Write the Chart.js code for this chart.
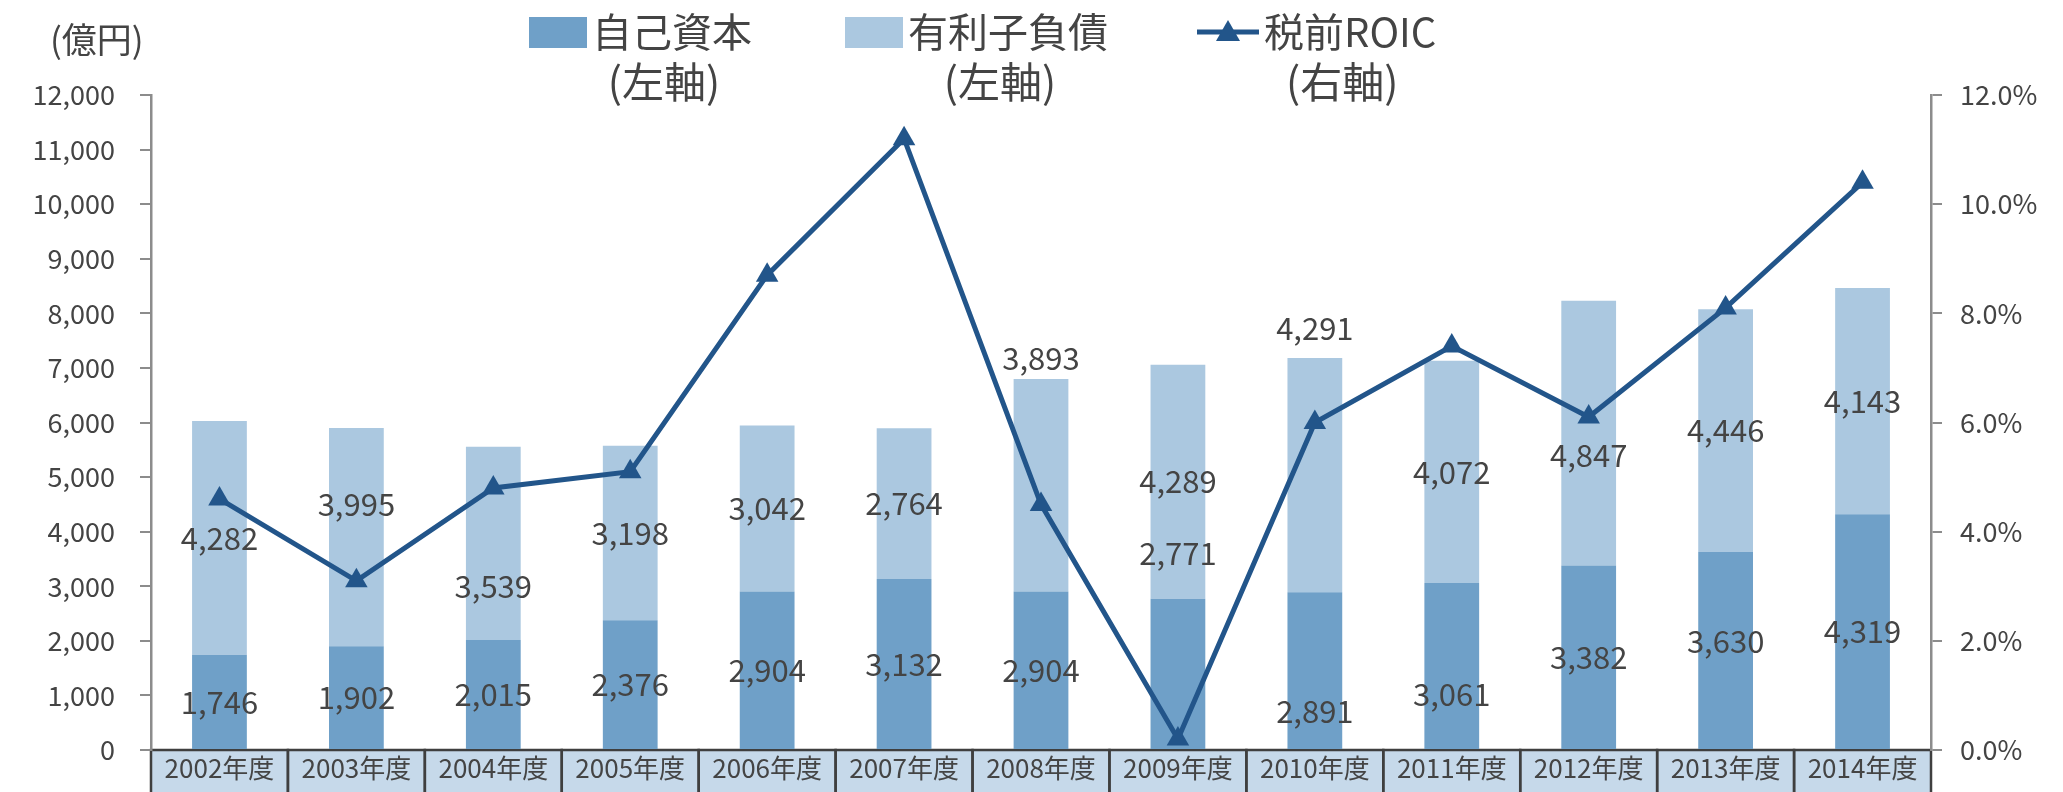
<!DOCTYPE html>
<html>
<head>
<meta charset="utf-8">
<script src="https://cdn.jsdelivr.net/npm/chart.js@4/dist/chart.umd.min.js"></script>
<style>
  body { margin: 0; background: #fff; }
  #wrap { width: 2063px; height: 792px; }
</style>
</head>
<body>
<div id="wrap"><canvas id="roicChart" width="2063" height="792"></canvas></div>
<script>
// ---- data ----
var years = ['2002年度', '2003年度', '2004年度', '2005年度', '2006年度', '2007年度', '2008年度',
    '2009年度', '2010年度', '2011年度', '2012年度', '2013年度', '2014年度'];
var equity = [1746, 1902, 2015, 2376, 2904, 3132, 2904, 2771, 2891, 3061, 3382, 3630, 4319];
var debt = [4282, 3995, 3539, 3198, 3042, 2764, 3893, 4289, 4291, 4072, 4847, 4446, 4143];
var roic = [4.6, 3.1, 4.8, 5.1, 8.7, 11.2, 4.5, 0.2, 6.0, 7.4, 6.1, 8.1, 10.4];
var legendSub = ['(左軸)', '(左軸)', '(右軸)'];

// label nudges (px) where the labels were moved by hand in the original
var equityNudge = [0, 0, 0, 0, 0, 0, 0, -121, 41, 28, 0, -9, 0];
var debtNudge = [0, -33, 43, 0, 0, 0, -127, 0, -147, 0, 22, 0, 0];

var FONT = "'Noto Sans CJK JP', 'Noto Sans', sans-serif";
var TEXT = '#444';

//================ plugins =================

// category band under the x axis
var xBand = {
    id: 'xBand',
    beforeDraw: function(chart) {
        var ctx = chart.ctx, area = chart.chartArea;
        var n = chart.data.labels.length;
        var w = (area.right - area.left) / n;
        ctx.save();
        ctx.fillStyle = '#c6d9ea';
        ctx.fillRect(area.left, area.bottom, area.right - area.left, chart.height - area.bottom);
        ctx.strokeStyle = '#3f3f3f';
        ctx.lineWidth = 2.5;
        for (var i = 0; i < n; i++) {
            ctx.strokeRect(area.left + i * w, area.bottom, w, chart.height - area.bottom + 5);
        }
        ctx.restore();
    }
};

// value labels on the bars
var barLabels = {
    id: 'barLabels',
    afterDatasetsDraw: function(chart) {
        var ctx = chart.ctx;
        ctx.save();
        ctx.font = '31px ' + FONT;
        ctx.fillStyle = TEXT;
        ctx.textAlign = 'center';
        ctx.textBaseline = 'middle';
        [[1, equity, equityNudge], [2, debt, debtNudge]].forEach(function(d) {
            var meta = chart.getDatasetMeta(d[0]);
            meta.data.forEach(function(bar, i) {
                var y = (bar.y + bar.base) / 2 + d[2][i];
                ctx.fillText(d[1][i].toLocaleString('en-US'), bar.x, y);
            });
        });
        ctx.restore();
    }
};

// two-line legend + unit label
var topLegend = {
    id: 'topLegend',
    afterDraw: function(chart) {
        var ctx = chart.ctx;
        var ds = chart.data.datasets;
        ctx.save();
        ctx.fillStyle = TEXT;
        ctx.font = '35px ' + FONT;
        ctx.textAlign = 'left';
        ctx.textBaseline = 'middle';
        ctx.fillText('(億円)', 50, 40);

        var items = [
            { ds: ds[1], box: 529, text: 592 },
            { ds: ds[2], box: 845, text: 908 },
            { ds: ds[0], box: 1197, text: 1264 }
        ];
        items.forEach(function(it, k) {
            if (it.ds.type === 'line') {
                ctx.strokeStyle = it.ds.borderColor;
                ctx.lineWidth = 5;
                ctx.beginPath();
                ctx.moveTo(it.box, 32);
                ctx.lineTo(it.box + 62, 32);
                ctx.stroke();
                ctx.fillStyle = it.ds.borderColor;
                ctx.beginPath();
                var cx = it.box + 31;
                ctx.moveTo(cx, 20);
                ctx.lineTo(cx + 12, 41);
                ctx.lineTo(cx - 12, 41);
                ctx.closePath();
                ctx.fill();
            } else {
                ctx.fillStyle = it.ds.backgroundColor;
                ctx.fillRect(it.box, 17, 58, 31);
            }
            ctx.fillStyle = TEXT;
            ctx.font = '40px ' + FONT;
            ctx.textAlign = 'left';
            ctx.fillText(it.ds.label, it.text, 32);
            var w = ctx.measureText(it.ds.label).width;
            ctx.textAlign = 'center';
            ctx.font = '42px ' + FONT;
            ctx.fillText(legendSub[k], it.text + w / 2 - 8, 82);
        });
        ctx.restore();
    }
};

//================ chart =================

var ctx1 = document.getElementById('roicChart').getContext('2d');
var config = {
    type: 'bar',
    data: {
        labels: years,
        datasets: [{
            type: 'line',
            label: '税前ROIC',
            data: roic,
            yAxisID: 'y1',
            borderColor: '#22558a',
            backgroundColor: '#22558a',
            borderWidth: 5,
            pointStyle: 'triangle',
            pointRadius: 13,
            pointBackgroundColor: '#22558a',
            pointBorderWidth: 0,
            tension: 0,
            order: 0
        }, {
            label: '自己資本',
            data: equity,
            yAxisID: 'y',
            backgroundColor: '#6fa0c8',
            barPercentage: 0.4,
            categoryPercentage: 1,
            order: 1
        }, {
            label: '有利子負債',
            data: debt,
            yAxisID: 'y',
            backgroundColor: '#abc8e0',
            barPercentage: 0.4,
            categoryPercentage: 1,
            order: 1
        }]
    },
    options: {
        responsive: false,
        animation: false,
        devicePixelRatio: 1,
        layout: { padding: { top: 95, left: 0, right: 0, bottom: 0 } },
        plugins: {
            legend: { display: false },
            tooltip: { enabled: false }
        },
        scales: {
            x: {
                stacked: true,
                grid: { display: false, drawTicks: false },
                border: { display: false },
                ticks: { color: TEXT, font: { family: FONT, size: 26 }, padding: 3 },
                afterFit: function(s) { s.height = 42; }
            },
            y: {
                stacked: true,
                position: 'left',
                min: 0,
                max: 12000,
                ticks: {
                    stepSize: 1000,
                    color: TEXT,
                    font: { family: FONT, size: 27 },
                    padding: 25,
                    callback: function(v) { return v.toLocaleString('en-US'); }
                },
                grid: { drawOnChartArea: false, drawTicks: true, tickLength: 11, color: '#8c8c8c', lineWidth: 2 },
                border: { display: true, color: '#8c8c8c', width: 2.5 },
                afterFit: function(s) { s.width = 151; }
            },
            y1: {
                position: 'right',
                min: 0,
                max: 12,
                ticks: {
                    stepSize: 2,
                    color: TEXT,
                    font: { family: FONT, size: 27 },
                    padding: 18,
                    callback: function(v) { return v.toFixed(1) + '%'; }
                },
                grid: { drawOnChartArea: false, drawTicks: true, tickLength: 11, color: '#8c8c8c', lineWidth: 2 },
                border: { display: true, color: '#8c8c8c', width: 2.5 },
                afterFit: function(s) { s.width = 132; }
            }
        }
    },
    plugins: [xBand, barLabels, topLegend]
};

var roicChart = new Chart(ctx1, config);
</script>
</body>
</html>
